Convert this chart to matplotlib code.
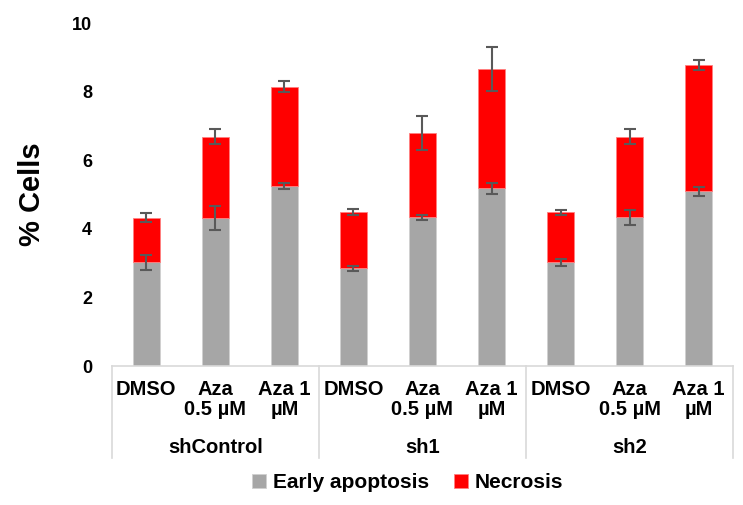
import numpy as np
import matplotlib.pyplot as plt
from matplotlib.transforms import blended_transform_factory

plt.rcParams['font.family'] = ['Liberation Sans', 'DejaVu Sans']
plt.rcParams['font.weight'] = 'bold'

# data
groups = ['shControl', 'sh1', 'sh2']
treatments = ['DMSO', 'Aza\n0.5 µM', 'Aza 1\nµM']
early = [3.02, 4.33, 5.25, 2.85, 4.34, 5.18, 3.02, 4.34, 5.09]
early_err = [0.21, 0.35, 0.08, 0.07, 0.07, 0.15, 0.09, 0.22, 0.14]
necrosis = [1.31, 2.36, 2.90, 1.63, 2.45, 3.47, 1.46, 2.35, 3.69]
total_err = [0.14, 0.22, 0.16, 0.09, 0.50, 0.64, 0.08, 0.22, 0.15]

gray = '#a6a6a6'
red = '#ff0000'
errc = '#595959'

x = np.arange(len(early))
total = np.array(early) + np.array(necrosis)

fig = plt.figure(figsize=(7.43, 5.05), dpi=100)
ax = fig.add_axes([0.1503, 0.2752, 0.8366, 0.679])

w = 0.39
ax.bar(x, early, w, color=gray, edgecolor='#d0d0d0', linewidth=0.6, label='Early apoptosis')
ax.bar(x, necrosis, w, bottom=early, color=red, edgecolor='#ff8080', linewidth=0.6, label='Necrosis')
ax.errorbar(x, early, yerr=early_err, fmt='none', ecolor=errc, elinewidth=1.5, capsize=4, capthick=1.5)
ax.errorbar(x, total, yerr=total_err, fmt='none', ecolor=errc, elinewidth=1.5, capsize=4, capthick=1.5)

ax.set_xlim(-0.5, len(early) - 0.5)
ax.set_ylim(0, 10)
ax.set_yticks(range(0, 11, 2))
ax.tick_params(axis='y', length=0, pad=14, labelsize=13)
ax.set_xticks([])
for s in ['top', 'right', 'left']:
    ax.spines[s].set_visible(False)
ax.spines['bottom'].set_color('#d9d9d9')
ax.spines['bottom'].set_linewidth(1.2)

ax.set_ylabel('% Cells', fontsize=21, fontweight='bold')
ax.yaxis.set_label_coords(-0.105, 0.5)

# multi-level category axis
trans = blended_transform_factory(ax.transData, ax.transAxes)
for i in x:
    ax.text(i, -0.04, treatments[i % 3], transform=trans, ha='center', va='top',
            fontsize=14.5, fontweight='bold', linespacing=1.1)
for g, name in enumerate(groups):
    ax.text(g * 3 + 1, -0.239, name, transform=trans, ha='center', va='center',
            fontsize=14.5, fontweight='bold')
for b in range(len(groups) + 1):
    ax.plot([b * 3 - 0.5, b * 3 - 0.5], [0, -0.268], transform=trans, color='#d9d9d9',
            linewidth=1.2, clip_on=False)

fig.legend(loc='center', bbox_to_anchor=(0.549, 0.044), ncol=2, frameon=False,
           handlelength=0.65, handleheight=0.65, handletextpad=0.35, columnspacing=1.2,
           prop={'size': 15, 'weight': 'bold'})

fig.savefig('out.png', dpi=100)
